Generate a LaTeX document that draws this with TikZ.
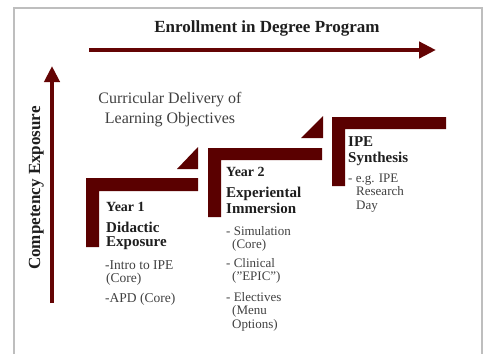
\documentclass[tikz,border=0pt]{standalone}
\usepackage{fontspec}
\setmainfont{Liberation Serif}
\usetikzlibrary{arrows.meta}
\definecolor{maroon}{RGB}{90,0,0}
\definecolor{arrowred}{RGB}{100,4,4}
\definecolor{framegray}{RGB}{190,190,190}
\definecolor{txt}{RGB}{30,30,30}
\tikzset{
  stepbar/.style={fill=maroon,draw=none},
  bigarrow/.style={draw=arrowred,line width=4.5pt,-{Triangle[length=17pt,width=16pt]}},
  hd/.style={anchor=base west,inner sep=0pt,text=txt,font=\fontsize{15}{15}\selectfont\bfseries},
  yr/.style={anchor=base west,inner sep=0pt,text=txt,font=\fontsize{14}{14}\selectfont\bfseries},
  bd/.style={anchor=base west,inner sep=0pt,text=txt!85,font=\fontsize{13}{13}\selectfont},
  bdone/.style={anchor=base west,inner sep=0pt,text=txt!85,font=\fontsize{13.5}{13.5}\selectfont},
}
\begin{document}
\begin{tikzpicture}[x=1pt,y=-1pt]
\useasboundingbox (0,0) rectangle (484,354);
% frame
\draw[framegray,line width=1.5pt] (14,354) -- (14,8) -- (482,8) -- (482,354);
% title
\node[anchor=base,inner sep=0pt,font=\fontsize{17}{17}\selectfont\bfseries,text=txt] (title) at (267,32) {Enrollment in Degree Program};
% horizontal arrow
\coordinate (hstart) at (89,50);
\coordinate (hend) at (436,50);
\draw[bigarrow] (hstart) -- (hend);
% vertical arrow
\coordinate (vstart) at (52,303);
\coordinate (vend) at (52,66);
\draw[bigarrow,-{Triangle[length=16pt,width=15pt]}] (vstart) -- (vend);
\node[rotate=90,anchor=base,inner sep=0pt,font=\fontsize{17}{17}\selectfont\bfseries,text=txt] (comp) at (40,188) {Competency Exposure};
% curricular delivery
\node[anchor=base,inner sep=0pt,font=\fontsize{16}{16}\selectfont,text=txt!85] (cd1) at (170,103) {Curricular Delivery of};
\node[anchor=base,inner sep=0pt,font=\fontsize{16}{16}\selectfont,text=txt!85] (cd2) at (170,123) {Learning Objectives};
% steps
\fill[stepbar] (86,178) -- (198,178) -- (198,191) -- (99,191) -- (99,247) -- (86,247) -- cycle;
\fill[stepbar] (177,169) -- (198,147) -- (198,169) -- cycle;
\fill[stepbar] (208,148) -- (322,148) -- (322,160) -- (221,160) -- (221,217) -- (208,217) -- cycle;
\fill[stepbar] (301,138) -- (323,116) -- (323,138) -- cycle;
\fill[stepbar] (332,117) -- (446,117) -- (446,129) -- (345,129) -- (345,186) -- (332,186) -- cycle;
% Year 1
\node[yr] (y1) at (106,211) {Year 1};
\node[hd] (y1a) at (106,232) {Didactic};
\node[hd] (y1b) at (106,246) {Exposure};
\node[bdone] (y1c) at (105,269) {-Intro to IPE};
\node[bdone] (y1d) at (106,282) {(Core)};
\node[bdone] (y1e) at (105,302) {-APD (Core)};
% Year 2
\node[yr] (y2) at (226,176) {Year 2};
\node[hd] (y2a) at (226,197) {Experiental};
\node[hd] (y2b) at (226,213) {Immersion};
\node[bd] (y2c) at (226,235) {- Simulation};
\node[bd] (y2d) at (232,248) {(Core)};
\node[bd] (y2e) at (226,267) {- Clinical};
\node[bd] (y2f) at (232,280) {({\char34}EPIC{\char34})};
\node[bd] (y2g) at (226,301) {- Electives};
\node[bd] (y2h) at (232,314) {(Menu};
\node[bd] (y2i) at (232,328) {Options)};
% IPE
\node[hd] (ip) at (348,146) {IPE};
\node[hd] (ipa) at (348,162) {Synthesis};
\node[bd] (ipb) at (348,182) {- e.g. IPE};
\node[bd] (ipc) at (356,195) {Research};
\node[bd] (ipd) at (356,209) {Day};
\end{tikzpicture}
\end{document}
